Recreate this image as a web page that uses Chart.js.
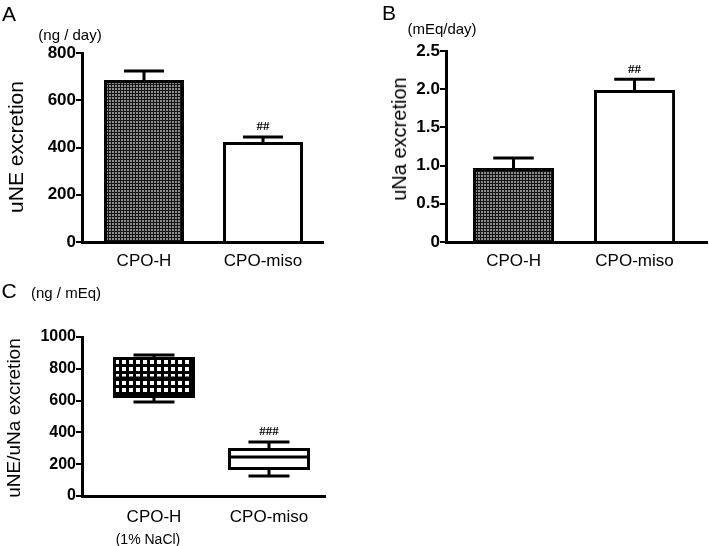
<!DOCTYPE html>
<html>
<head>
<meta charset="utf-8">
<script src="https://cdn.jsdelivr.net/npm/chart.js@4.4.1/dist/chart.umd.min.js"></script>
<style>
body { margin: 0; background: #fff; width: 709px; height: 546px; position: relative; overflow: hidden;
       font-family: 'Liberation Sans', Arial, sans-serif; }
canvas { position: absolute; }
.lbl { position: absolute; white-space: nowrap; color: #000; line-height: 1; transform: translate(-50%, -50%); }
.yt { transform: translate(-50%, -50%) rotate(-90deg); }
</style>
</head>
<body>
<canvas id="chartA" width="350" height="278" style="left:0;top:0"></canvas>
<canvas id="chartB" width="349" height="278" style="left:360px;top:0"></canvas>
<canvas id="chartC" width="350" height="266" style="left:0;top:280px"></canvas>

<div class="lbl" style="left:9px;top:13px;font-size:21px">A</div>
<div class="lbl" style="left:389px;top:12px;font-size:21px">B</div>
<div class="lbl" style="left:9px;top:290px;font-size:21px">C</div>
<div class="lbl" style="left:70px;top:34px;font-size:15px">(ng / day)</div>
<div class="lbl" style="left:442px;top:28px;font-size:15px">(mEq/day)</div>
<div class="lbl" style="left:66px;top:292px;font-size:15px">(ng / mEq)</div>
<div class="lbl yt" style="left:15px;top:147px;font-size:21px">uNE excretion</div>
<div class="lbl yt" style="left:399px;top:139px;font-size:20px">uNa excretion</div>
<div class="lbl yt" style="left:13px;top:418px;font-size:19px">uNE/uNa excretion</div>
<div class="lbl" style="left:148px;top:539px;font-size:14px">(1% NaCl)</div>

<script>
// values
const groups = ['CPO-H', 'CPO-miso'];
const uneMean = [686, 423];
const uneSem = [38, 21];
const unaMean = [0.97, 1.99];
const unaSem = [0.13, 0.14];
const ratioMin = [591, 126];
const ratioQ1 = [616, 164];
const ratioMedian = [742, 245];
const ratioQ3 = [874, 302];
const ratioMax = [887, 340];
const marksAB = ['', '##'];
const marksC = ['', '###'];
const uneTicks = [0, 200, 400, 600, 800];
const unaTicks = [0, 0.5, 1.0, 1.5, 2.0, 2.5];
const ratioTicks = [0, 200, 400, 600, 800, 1000];

const font = "'Liberation Sans', Arial, sans-serif";

function pattern(size, draw) {
    const c = document.createElement('canvas');
    c.width = c.height = size;
    const g = c.getContext('2d');
    draw(g);
    return g.createPattern(c, 'repeat');
}
// fine dark hatch of the CPO-H bars
const fineHatch = pattern(3, g => {
    g.fillStyle = '#8c8c8c'; g.fillRect(0, 0, 3, 3);
    g.fillStyle = '#151515'; g.fillRect(0, 0, 3, 1); g.fillRect(0, 0, 1, 3);
});
// coarse grid of the CPO-H box
const coarseGrid = pattern(7, g => {
    g.fillStyle = '#000'; g.fillRect(0, 0, 7, 7);
    g.fillStyle = '#fff'; g.fillRect(3, 3, 4, 4);
});

const errorBars = {
    id: 'errorBars',
    afterDatasetsDraw(chart, args, opts) {
        if (!opts.mean) return;
        const ctx = chart.ctx, y = chart.scales.y;
        ctx.save();
        ctx.strokeStyle = '#000';
        ctx.lineWidth = 3;
        ctx.fillStyle = '#000';
        ctx.font = 'bold 13px "Liberation Serif"';
        ctx.textAlign = 'center';
        ctx.textBaseline = 'middle';
        chart.getDatasetMeta(0).data.forEach((bar, i) => {
            const top = y.getPixelForValue(opts.mean[i] + opts.sem[i]);
            const half = bar.width / 4;
            ctx.beginPath();
            ctx.moveTo(bar.x, bar.y);
            ctx.lineTo(bar.x, top);
            ctx.moveTo(bar.x - half, top);
            ctx.lineTo(bar.x + half, top);
            ctx.stroke();
            if (opts.marks[i]) ctx.fillText(opts.marks[i], bar.x, top - 10);
        });
        ctx.restore();
    }
};

const boxParts = {
    id: 'boxParts',
    afterDatasetsDraw(chart, args, opts) {
        if (!opts.median) return;
        const ctx = chart.ctx, y = chart.scales.y;
        ctx.save();
        ctx.strokeStyle = '#000';
        ctx.lineWidth = 3;
        ctx.fillStyle = '#000';
        ctx.font = 'bold 13px "Liberation Serif"';
        ctx.textAlign = 'center';
        ctx.textBaseline = 'middle';
        chart.getDatasetMeta(0).data.forEach((box, i) => {
            const w = box.width, half = w / 4;
            const yMed = y.getPixelForValue(opts.median[i]);
            const yMax = y.getPixelForValue(opts.max[i]);
            const yMin = y.getPixelForValue(opts.min[i]);
            const yQ3 = y.getPixelForValue(opts.q3[i]);
            const yQ1 = y.getPixelForValue(opts.q1[i]);
            ctx.beginPath();
            ctx.moveTo(box.x - w / 2, yMed); ctx.lineTo(box.x + w / 2, yMed);
            ctx.moveTo(box.x, yQ3); ctx.lineTo(box.x, yMax);
            ctx.moveTo(box.x - half, yMax); ctx.lineTo(box.x + half, yMax);
            ctx.moveTo(box.x, yQ1); ctx.lineTo(box.x, yMin);
            ctx.moveTo(box.x - half, yMin); ctx.lineTo(box.x + half, yMin);
            ctx.stroke();
            if (opts.marks[i]) ctx.fillText(opts.marks[i], box.x, yMax - 10);
        });
        ctx.restore();
    }
};

function panel(id, cfg) {
    return new Chart(document.getElementById(id), {
        type: 'bar',
        data: {
            datasets: [{
                data: cfg.data,
                backgroundColor: cfg.fills,
                borderColor: '#000',
                borderWidth: 3,
                borderSkipped: cfg.skip,
                categoryPercentage: 1,
                barPercentage: cfg.barPct
            }]
        },
        options: {
            responsive: false,
            animation: false,
            devicePixelRatio: 1,
            layout: { padding: cfg.padding },
            plugins: {
                legend: { display: false },
                tooltip: { enabled: false },
                errorBars: cfg.errorBars || {},
                boxParts: cfg.boxParts || {}
            },
            scales: {
                x: {
                    type: 'linear',
                    offset: false,
                    min: cfg.xMin,
                    max: cfg.xMax,
                    grid: { display: false, offset: false, drawTicks: false, tickLength: 0 },
                    border: { display: true, color: '#000', width: 3 },
                    afterBuildTicks: s => { s.ticks = groups.map((g, i) => ({ value: i + 1 })); },
                    afterFit: s => { s.height = cfg.xHeight; },
                    ticks: {
                        padding: cfg.xPad,
                        color: '#000',
                        maxRotation: 0,
                        autoSkip: false,
                        font: { family: font, size: 17 },
                        callback: v => groups[v - 1]
                    }
                },
                y: {
                    min: cfg.ticks[0],
                    max: cfg.ticks[cfg.ticks.length - 1],
                    grid: { drawOnChartArea: false, drawTicks: true, tickLength: 6, color: '#000', lineWidth: 2 },
                    border: { display: true, color: '#000', width: 3 },
                    afterBuildTicks: s => { s.ticks = cfg.ticks.map(v => ({ value: v })); },
                    afterFit: s => { s.width = cfg.yWidth; },
                    ticks: {
                        padding: 0,
                        color: '#000',
                        font: { family: font, size: cfg.tickSize, weight: 'bold' },
                        callback: cfg.fmt
                    }
                }
            }
        },
        plugins: [errorBars, boxParts]
    });
}

document.addEventListener('DOMContentLoaded', function () {
    panel('chartA', {
        data: groups.map((g, i) => ({ x: i + 1, y: uneMean[i] })),
        fills: [fineHatch, '#fff'],
        skip: 'start',
        barPct: 0.672,
        xMin: 0.479, xMax: 2.504,
        padding: { left: 0, top: 53, right: 27, bottom: 0 },
        yWidth: 82,
        xHeight: 36,
        xPad: 9,
        ticks: uneTicks,
        tickSize: 17,
        fmt: v => String(v),
        errorBars: { mean: uneMean, sem: uneSem, marks: marksAB }
    });

    panel('chartB', {
        data: groups.map((g, i) => ({ x: i + 1, y: unaMean[i] })),
        fills: [fineHatch, '#fff'],
        skip: 'start',
        barPct: 0.67,
        xMin: 0.442, xMax: 2.599,
        padding: { left: 0, top: 51, right: 2, bottom: 0 },
        yWidth: 86,
        xHeight: 36,
        xPad: 9,
        ticks: unaTicks,
        tickSize: 17,
        fmt: v => v === 0 ? '0' : v.toFixed(1),
        errorBars: { mean: unaMean, sem: unaSem, marks: marksAB }
    });

    panel('chartC', {
        data: groups.map((g, i) => ({ x: i + 1, y: [ratioQ1[i], ratioQ3[i]] })),
        fills: [coarseGrid, '#fff'],
        skip: false,
        barPct: 0.713,
        xMin: 0.374, xMax: 2.487,
        padding: { left: 0, top: 57, right: 25, bottom: 0 },
        yWidth: 82,
        xHeight: 50,
        xPad: 11,
        ticks: ratioTicks,
        tickSize: 16,
        fmt: v => String(v),
        boxParts: { min: ratioMin, q1: ratioQ1, median: ratioMedian, q3: ratioQ3, max: ratioMax, marks: marksC }
    });
});
</script>
</body>
</html>
